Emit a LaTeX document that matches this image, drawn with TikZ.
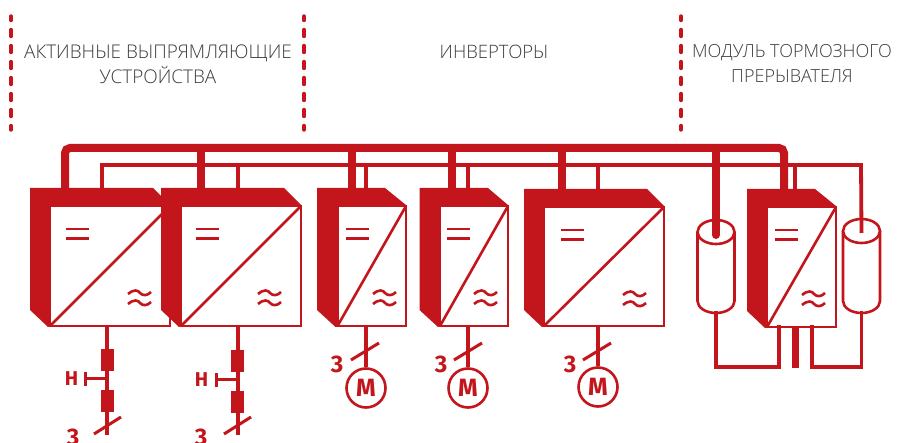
\documentclass[tikz,border=0pt]{standalone}
\usepackage{fontspec}
\setmainfont{Open Sans}[UprightFont=* Light]
\newfontfamily\lblfont{Fira Sans}
\definecolor{brand}{HTML}{C3161C}
\definecolor{cap}{HTML}{3C3C3C}
\tikzset{
  wire/.style={draw=brand,line width=3.8pt},
  thin/.style={draw=brand,line width=2.6pt},
  busbar/.style={draw=brand,line width=8pt},
  divider/.style={draw=brand,line width=3.4pt,line cap=round,dash pattern=on 7pt off 9pt,dash phase=2.5pt},
  header/.style={text=cap,font=\fontsize{18.5}{25}\selectfont,align=center,inner sep=0pt},
  face/.style={draw=brand,fill=white,line width=2.6pt,rectangle,inner sep=0pt,outer sep=0pt},
  motor/.style={circle,draw=brand,fill=white,line width=2.6pt,minimum size=39pt,inner sep=0pt,text=brand,font=\lblfont\bfseries\fontsize{25}{25}\selectfont},
  num/.style={text=brand,font=\lblfont\bfseries\fontsize{24}{24}\selectfont,inner sep=0pt},
  fuse/.style={fill=brand,draw=none,rectangle,minimum width=13pt,minimum height=22pt,inner sep=0pt},
  hlabel/.style={text=brand,font=\lblfont\bfseries\fontsize{20}{20}\selectfont,inner sep=0pt},
}
% name, outer left, inner left, inner right, chamfer x, inner top, bottom, = x, wave x
\newcommand{\pcmodule}[9]{%
  \fill[brand] (#2,#6-18) -- (#5,#6-18) -- (#4,#6-1) -- (#4,#6+2) -- (#3,#6+2) -- (#3,#7) -- (#3-2,#7+1) -- (#2,#7-16) -- cycle;
  \node[face,anchor=north west,minimum width=#4-#3 pt,minimum height=#7-#6 pt] (#1) at (#3,#6) {};
  \draw[thin] (#1.south west) -- (#1.north east);
  \draw[thin,line width=2.8pt] (#8,#6+23) -- ++(22.5,0) (#8,#6+32.5) -- ++(22.5,0);
  \draw[thin] (#9,#6+88) .. controls (#9+6,#6+83) and (#9+10,#6+84) .. (#9+12,#6+87) .. controls (#9+15,#6+90) and (#9+19,#6+90) .. (#9+23,#6+86);
  \draw[thin] (#9,#6+98) .. controls (#9+6,#6+93) and (#9+10,#6+94) .. (#9+12,#6+97) .. controls (#9+15,#6+100) and (#9+19,#6+100) .. (#9+23,#6+96);
}
\newcommand{\capacitor}[3]{% name, centre x, top-ellipse y
  \coordinate (#1) at (#2,#3);
  \coordinate (#1b) at (#2,313);
  \draw[brand,fill=white,line width=2.6pt] (#2-18.5,#3) -- (#2-18.5,301) arc[start angle=180,end angle=360,x radius=18.5pt,y radius=12pt] -- (#2+18.5,#3);
  \draw[brand,fill=white,line width=2.6pt] (#2,#3) ellipse[x radius=18.5pt,y radius=12pt];
}
\begin{document}
\begin{tikzpicture}[x=1pt,y=-1pt]
\useasboundingbox (0,0) rectangle (912,443);
% dividers
\coordinate (d1a) at (11,16); \coordinate (d1b) at (11,130);
\coordinate (d2a) at (304,16); \coordinate (d2b) at (304,130);
\coordinate (d3a) at (681,16); \coordinate (d3b) at (681,130);
\draw[divider] (d1a) -- (d1b);
\draw[divider] (d2a) -- (d2b);
\draw[divider] (d3a) -- (d3b);
% headers
\node[header,font=\fontsize{18.9}{25}\selectfont] (h1) at (158,64) {АКТИВНЫЕ ВЫПРЯМЛЯЮЩИЕ\\УСТРОЙСТВА};
\node[header] (h2) at (494,51.5) {ИНВЕРТОРЫ};
\node[header,font=\fontsize{18}{25}\selectfont] (h3) at (792,64) {МОДУЛЬ ТОРМОЗНОГО\\ПРЕРЫВАТЕЛЯ};
% bus coordinates
\coordinate (busL) at (65,188); \coordinate (busTL) at (65,148);
\coordinate (busTR) at (784,148); \coordinate (busR) at (784,189);
\coordinate (ctlL) at (102,188); \coordinate (ctlTL) at (102,165);
\coordinate (ctlTR) at (861,165);
% capacitors
\capacitor{c1}{716}{232}
\capacitor{c2}{861.5}{231}
% bus
\draw[wire] (ctlL) -- (ctlTL) -- (ctlTR) -- (c2 |- 0,233);
\draw[busbar,rounded corners=5pt] (busL) -- (busTL) -- (busTR) -- (busR);
\foreach \x in {201,352,452,562} \draw[busbar] (\x,148) -- (\x,190);
\draw[busbar,line cap=round] (c1 |- 0,148) -- (c1 |- 0,235);
\foreach \x in {238,366,468,598,795} \draw[wire] (\x,165) -- (\x,190);
% modules
\pcmodule{m1}{30}{50}{170}{153}{206}{326}{66}{128}
\pcmodule{m2}{161}{181}{301}{284}{206}{326}{196}{258}
\pcmodule{m3}{317}{337.5}{406}{385}{206}{326}{346}{373}
\pcmodule{m4}{419.5}{440}{508}{488}{206}{326}{447}{474}
\pcmodule{m5}{524}{544}{664}{647}{207}{326}{561}{623}
\pcmodule{m6}{747}{767}{836}{815}{207}{327}{775}{802}
% motors
\node[motor] (mot1) at (366,388) {M};
\node[motor] (mot2) at (468,388) {M};
\node[motor] (mot3) at (598,387) {M};
\draw[wire] (m3.south -| mot1) -- (mot1.north);
\draw[wire] (m4.south -| mot2) -- (mot2.north);
\draw[wire] (m5.south -| mot3) -- (mot3.north);
\coordinate (s1a) at (351,360); \coordinate (s1b) at (379,343);
\coordinate (s2a) at (454,360); \coordinate (s2b) at (482,343);
\coordinate (s3a) at (583,360); \coordinate (s3b) at (611,343);
\draw[thin,line width=3pt] (s1a) -- (s1b);
\draw[thin,line width=3pt] (s2a) -- (s2b);
\draw[thin,line width=3pt] (s3a) -- (s3b);
\node[num] (n1) at (337,364) {3};
\node[num] (n2) at (441,364) {3};
\node[num] (n3) at (570,364) {3};
% grid legs
\coordinate (e1) at (107,435); \coordinate (e2) at (238,435);
\draw[wire] (m1.south -| e1) -- (e1);
\draw[wire] (m2.south -| e2) -- (e2);
\node[fuse] (f1) at (107,360) {};
\node[fuse] (f2) at (107,401) {};
\node[fuse] (f3) at (237.5,361) {};
\node[fuse] (f4) at (237.5,402) {};
\coordinate (t1) at (86,378); \coordinate (t2) at (216.5,379);
\draw[thin,line width=3pt] (t1) -- (e1 |- t1);
\draw[thin,line width=3pt] (t2) -- (e2 |- t2);
\draw[thin,line width=3pt] (85.5,372) -- (85.5,386);
\draw[thin,line width=3pt] (216.5,373) -- (216.5,387);
\node[hlabel] (hh1) at (71.5,379) {H};
\node[hlabel] (hh2) at (201.5,380) {H};
\coordinate (s4a) at (94,434); \coordinate (s4b) at (121,417);
\coordinate (s5a) at (224,434); \coordinate (s5b) at (251,417);
\draw[thin,line width=3pt] (s4a) -- (s4b);
\draw[thin,line width=3pt] (s5a) -- (s5b);
\node[num] (n4) at (73,437) {3};
\node[num] (n5) at (201,437) {3};
% brake wiring
\coordinate (w1) at (779,327); \coordinate (w2) at (812,327);
\draw[wire,line cap=rect] (c1b) -- (c1b |- 0,367) -- (w1 |- 0,367) -- (w1);
\draw[wire,line cap=rect] (w2) -- (w2 |- 0,367) -- (c2b |- 0,367) -- (c2b);
\coordinate (k1) at (795,327); \coordinate (k2) at (795,368);
\draw[draw=brand,line width=7pt] (k1) -- (k2);
\end{tikzpicture}
\end{document}
